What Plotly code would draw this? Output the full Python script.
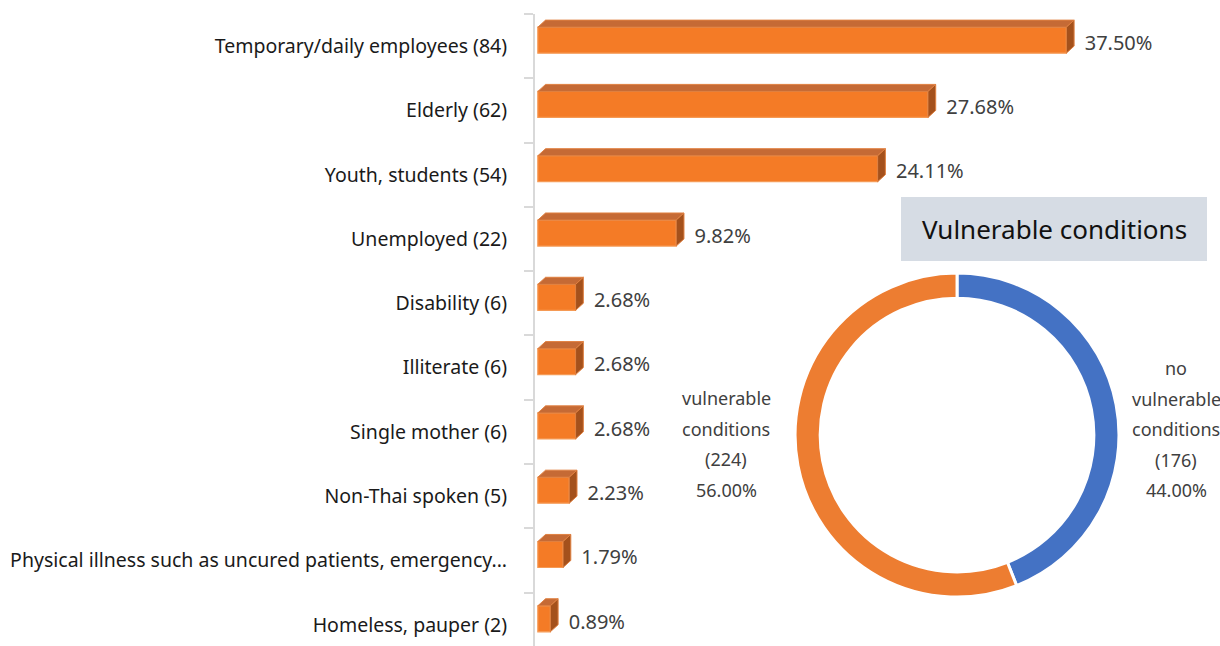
import plotly.graph_objects as go

# bar chart data
categories = ['Temporary/daily employees (84)', 'Elderly (62)', 'Youth, students (54)',
              'Unemployed (22)', 'Disability (6)', 'Illiterate (6)', 'Single mother (6)',
              'Non-Thai spoken (5)', 'Physical illness such as uncured patients, emergency...',
              'Homeless, pauper (2)']
percents = [37.50, 27.68, 24.11, 9.82, 2.68, 2.68, 2.68, 2.23, 1.79, 0.89]

# donut data
donut_labels = ['no vulnerable conditions', 'vulnerable conditions']
donut_counts = [176, 224]
donut_pcts = [44.00, 56.00]

FONT = 'Noto Sans'
pos = list(range(len(categories)))

# 3D look: depth of the bars in x units (%) and y units (category)
dx = 0.55
dy = 0.11
off = -0.295
bw = 0.404

fig = go.Figure()

# front face
fig.add_trace(go.Bar(
    x=percents, y=pos, orientation='h', width=bw, offset=off,
    marker=dict(color='#F47B26', line=dict(color='#F59A55', width=1.2)),
    hoverinfo='skip', showlegend=False))

# top face and side face as polygons
top_x, top_y, side_x, side_y = [], [], [], []
for p, v in zip(pos, percents):
    y0 = p + off
    y1 = p + off + bw
    top_x += [0, v, v + dx, dx, 0, None]
    top_y += [y0, y0, y0 - dy, y0 - dy, y0, None]
    side_x += [v, v + dx, v + dx, v, v, None]
    side_y += [y0, y0 - dy, y1 - dy, y1, y0, None]

fig.add_trace(go.Scatter(x=top_x, y=top_y, mode='lines', fill='toself',
                         fillcolor='#C56A35', line=dict(color='#E08040', width=1),
                         hoverinfo='skip', showlegend=False))
fig.add_trace(go.Scatter(x=side_x, y=side_y, mode='lines', fill='toself',
                         fillcolor='#A4511C', line=dict(color='#E08040', width=1),
                         hoverinfo='skip', showlegend=False))

# value labels
fig.add_trace(go.Scatter(
    x=[v + dx + 0.75 for v in percents], y=[p - 0.02 for p in pos], mode='text',
    text=['%.2f%%' % v for v in percents], textposition='middle right',
    textfont=dict(family=FONT, size=20, color='#404040'),
    hoverinfo='skip', showlegend=False))

# donut
fig.add_trace(go.Pie(
    labels=donut_labels, values=donut_counts, hole=0.845, sort=False,
    direction='clockwise', rotation=0, textinfo='none',
    marker=dict(colors=['#4472C4', '#ED7D31'], line=dict(color='white', width=3)),
    domain=dict(x=[0.3796, 0.8526], y=[0.0775, 0.590]),
    showlegend=False, hoverinfo='skip'))

# donut labels, one line per annotation to get the wide line spacing
def label_lines(label, count, pct):
    words = label.split(' ')
    if label.startswith('no '):
        lines = [words[0], words[1], words[2]]
    else:
        lines = [words[0], words[1]]
    return lines + ['(%d)' % count, '%.2f%%' % pct]

annotations = []
for (xc, ytop), lab, cnt, pct in zip([(1176, 368), (726, 398)], donut_labels, donut_counts, donut_pcts):
    for k, line in enumerate(label_lines(lab, cnt, pct)):
        ypx = ytop + k * 30.6
        annotations.append(dict(
            x=(xc - 535) / 685, y=(646 - ypx) / 632, xref='paper', yref='paper',
            text=line, showarrow=False, xanchor='center', yanchor='middle',
            font=dict(family=FONT, size=18, color='#404040')))

# title box
annotations.append(dict(
    x=(1054 - 535) / 685, y=(646 - 229) / 632, xref='paper', yref='paper',
    text='Vulnerable conditions', showarrow=False, xanchor='center', yanchor='middle',
    font=dict(family=FONT, size=26, color='#111111')))

fig.update_layout(
    width=1220, height=646,
    margin=dict(l=535, r=0, t=14, b=0),
    paper_bgcolor='white', plot_bgcolor='white',
    annotations=annotations,
    shapes=[dict(type='rect', xref='paper', yref='paper',
                 x0=(901 - 535) / 685, x1=(1207 - 535) / 685,
                 y0=(646 - 261) / 632, y1=(646 - 197) / 632,
                 fillcolor='#D6DCE4', line=dict(width=0), layer='below')],
    xaxis=dict(range=[-0.2, 48.4], showgrid=False, zeroline=False,
               showticklabels=False, showline=False, fixedrange=True),
    yaxis=dict(range=[9.33, -0.5], tickvals=pos, ticktext=categories,
               showgrid=False, zeroline=False, showline=True,
               linecolor='#D9D9D9', linewidth=2, ticks='',
               ticklabelstandoff=22,
               tickfont=dict(family=FONT, size=19.5, color='#1a1a1a'),
               minor=dict(ticks='outside', tick0=-0.5, dtick=1, ticklen=9,
                          tickcolor='#D9D9D9', tickwidth=2, showgrid=False)),
)

fig.write_html('out.html', config={'displayModeBar': False},
               post_script="document.body.style.margin='0';")
